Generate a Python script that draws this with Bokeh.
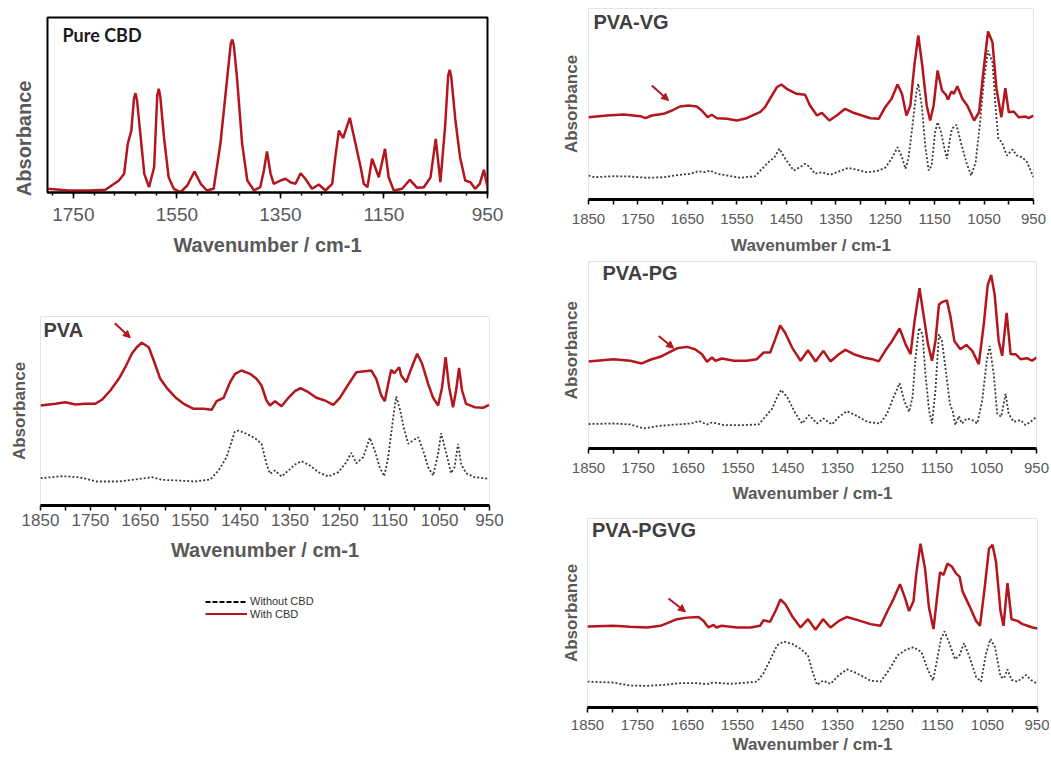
import math
from bokeh.plotting import figure
from bokeh.models import Range1d, FixedTicker, Label, Arrow, NormalHead, Legend, LegendItem
from bokeh.layouts import row, column
from bokeh.embed import file_html
from bokeh.resources import INLINE

# ---------------- data (wavenumber in cm-1, absorbance in arbitrary units) ----------------
cbd_wn = [1800, 1760, 1720, 1688, 1662, 1652, 1645, 1638, 1633, 1630, 1627, 1620, 1613, 1604, 1594,
          1588, 1585, 1582, 1575, 1566, 1556, 1543, 1530, 1516, 1504, 1492, 1479, 1466, 1456, 1446,
          1443, 1440, 1434, 1424, 1414, 1401, 1389, 1382, 1376, 1369, 1363, 1350, 1340, 1331, 1321,
          1311, 1302, 1289, 1276, 1263, 1250, 1244, 1237, 1229, 1216, 1205, 1195, 1189, 1182, 1173,
          1160, 1148, 1141, 1131, 1115, 1100, 1086, 1073, 1060, 1050, 1041, 1032, 1026, 1023, 1020,
          1012, 1003, 993, 983, 974, 965, 957, 950]
cbd_abs = [3.7, 2, 2, 2.7, 12, 18.7, 48.7, 62, 93.7, 99.3, 92, 55.3, 18.7, 5.3, 25.3,
           97, 103.7, 95.3, 55.3, 15.3, 3.7, 0.3, 7, 21, 8.7, 2, 3.7, 48.7, 98.7, 148.7,
           153, 147, 115.3, 48.7, 12, 2, 5.3, 22, 41, 18.7, 8.7, 12, 13.7, 10.3, 8.7,
           19.3, 13.7, 3.7, 8, 2, 8.7, 35.3, 62, 54.3, 74.7, 48.7, 25.3, 8.7, 5.3, 33.7,
           15.3, 43.7, 15.3, 2, 3.7, 12.7, 4.7, 5.3, 15.3, 53.7, 10.3, 65.3, 117, 122.7, 115.3,
           72, 35.3, 12, 10.3, 3.7, 8.7, 22.7, 5.3]

pva_with_wn = [1850, 1820, 1800, 1780, 1760, 1740, 1727, 1710, 1693, 1680, 1667, 1657, 1647, 1633, 1623,
               1610, 1597, 1580, 1563, 1543, 1523, 1507, 1497, 1483, 1470, 1460, 1447, 1430, 1417, 1407,
               1397, 1390, 1380, 1367, 1353, 1340, 1329, 1313, 1297, 1280, 1263, 1250, 1233, 1217, 1200,
               1187, 1177, 1167, 1160, 1153, 1147, 1141, 1131, 1127, 1117, 1107, 1095, 1085, 1073, 1063,
               1053, 1045, 1038, 1031, 1023, 1017, 1011, 1005, 997, 980, 963, 951]
pva_with_abs = [100, 101.7, 103.3, 101, 101.7, 101.7, 105.7, 115, 126.7, 138.3, 151.7, 158.3, 162.7, 158.3, 145,
                126.7, 117.7, 108.3, 101.7, 96.7, 96.7, 95.7, 104.3, 107.7, 123.3, 131.7, 135, 131.7, 126.7, 120,
                105, 100, 104.3, 99.3, 107.7, 114.3, 117.3, 113.3, 107.7, 105, 100.7, 107.7, 121, 133.3, 134.3,
                135, 126.7, 110, 104.3, 121.7, 135.7, 132.3, 138.3, 130, 123.3, 136.7, 151.7, 141.7, 121.7, 107.7,
                100, 118.3, 148.3, 118.3, 98.3, 115, 137.7, 115, 101.7, 98.3, 97.7, 100.7]
pva_without_wn = [1850, 1807, 1773, 1737, 1693, 1660, 1627, 1607, 1573, 1540, 1510, 1493, 1477, 1461, 1453,
                  1437, 1420, 1407, 1397, 1390, 1380, 1367, 1353, 1340, 1327, 1310, 1293, 1273, 1253, 1237,
                  1227, 1217, 1203, 1190, 1180, 1170, 1161, 1153, 1143, 1137, 1129, 1122, 1113, 1103, 1093,
                  1083, 1073, 1063, 1053, 1047, 1038, 1027, 1020, 1013, 1007, 997, 980, 951]
pva_without_abs = [27.3, 29.3, 28.3, 24, 24, 26, 28.3, 25.7, 25, 24, 26, 35, 48.3, 73.3, 75,
                   71.7, 67.3, 61.7, 41.7, 31.7, 35, 29, 35, 41, 44.3, 40, 33.3, 29, 33.3, 43.3,
                   52.7, 42.3, 48.3, 67.7, 55, 38.3, 29.3, 48.3, 88.3, 109, 95, 78.3, 61.7, 65, 68.3,
                   55, 38.3, 30, 51.7, 72.3, 55, 32.3, 38.3, 61.7, 41.7, 32.3, 28.3, 26.7]

vg_with_wn = [1850, 1813, 1779, 1745, 1735, 1722, 1698, 1681, 1665, 1648, 1631, 1621, 1609, 1601, 1590,
              1570, 1550, 1530, 1516, 1503, 1493, 1479, 1469, 1460, 1449, 1429, 1412, 1402, 1388, 1378,
              1363, 1348, 1331, 1317, 1297, 1280, 1263, 1250, 1237, 1225, 1216, 1207, 1199, 1191, 1183,
              1175, 1166, 1159, 1152, 1144, 1135, 1127, 1123, 1116, 1111, 1104, 1094, 1084, 1070, 1060,
              1050, 1042, 1033, 1025, 1015, 1007, 1000, 990, 980, 966, 960, 950]
vg_with_abs = [82.3, 84, 85, 83.3, 81.3, 84, 85.7, 89, 93, 94, 93, 89, 82.3, 84.7, 81.3,
               80.7, 79, 81.3, 84.7, 87.3, 92.3, 104, 112.3, 115, 110.7, 105.7, 104.7, 94, 84, 86.7,
               79, 84, 90.7, 87.3, 84, 81.3, 80.7, 92.3, 100.7, 115, 105.7, 84, 94, 134, 164,
               134, 94, 79, 94, 129, 109, 104.7, 100, 108, 105.7, 113.3, 100.7, 94, 79, 87.3,
               134, 168, 157.3, 111.3, 82.3, 111.3, 87.3, 88, 82.3, 83, 81.3, 84]
vg_without_wn = [1850, 1837, 1799, 1766, 1732, 1698, 1665, 1644, 1628, 1614, 1604, 1590, 1570, 1543, 1513,
                 1499, 1486, 1474, 1464, 1452, 1435, 1422, 1412, 1402, 1392, 1378, 1361, 1344, 1324, 1307,
                 1287, 1267, 1250, 1237, 1225, 1216, 1209, 1203, 1194, 1187, 1183, 1176, 1169, 1162, 1156,
                 1149, 1144, 1137, 1130, 1125, 1119, 1115, 1106, 1097, 1086, 1076, 1067, 1058, 1050, 1042,
                 1033, 1027, 1021, 1014, 1004, 992, 984, 973, 963, 950]
vg_without_abs = [24, 22.3, 23.3, 23, 21.7, 22.3, 24.7, 25.7, 28.3, 27.3, 29, 25.7, 24, 21.7, 23.3,
                  30.7, 37.3, 42.3, 50.7, 40.7, 29, 32.3, 35.7, 32.3, 25.7, 27.3, 24.7, 28, 31.7, 29.7,
                  27.3, 28.3, 31.7, 40.7, 52.3, 42.3, 30.7, 40.7, 77.3, 107.3, 115.7, 94, 54, 29, 34,
                  67.3, 77.3, 67.3, 50.7, 40.7, 60.7, 70.7, 74.7, 57.3, 37.3, 24, 37.3, 77.3, 120.7, 149,
                  137.3, 94, 60.7, 57.3, 44, 50, 44, 42.3, 37.3, 22.3]

pg_with_wn = [1850, 1800, 1766, 1743, 1726, 1706, 1689, 1672, 1652, 1636, 1622, 1612, 1602, 1595, 1582,
              1558, 1532, 1512, 1498, 1485, 1475, 1465, 1455, 1441, 1424, 1409, 1394, 1378, 1364, 1347,
              1334, 1317, 1297, 1280, 1267, 1254, 1240, 1225, 1213, 1203, 1195, 1185, 1177, 1168, 1160,
              1153, 1146, 1140, 1130, 1123, 1115, 1103, 1091, 1079, 1066, 1056, 1048, 1041, 1034, 1026,
              1019, 1010, 1002, 992, 982, 969, 959, 950]
pg_with_abs = [88, 90.3, 88.7, 86, 89.7, 92.7, 97, 101.3, 102.7, 100.3, 95.3, 87.7, 92, 88.7, 91,
               88.7, 88.7, 90.3, 97, 97, 110.3, 124.3, 117, 102, 88.7, 99.3, 88, 98.7, 88, 95.3,
               99.7, 95.3, 92, 90.3, 88, 98.7, 108.7, 121.3, 105.3, 95.3, 128.7, 162, 135.3, 105.3, 88.7,
               108.7, 145.3, 148, 149.7, 133.7, 108.7, 100.3, 104.7, 98.7, 85.3, 125.3, 165.3, 175.3, 155.3, 108.7,
               93.7, 137, 95.3, 95.3, 90.3, 91.3, 88.7, 92]
pg_without_wn = [1850, 1800, 1766, 1739, 1706, 1672, 1644, 1628, 1612, 1602, 1578, 1538, 1508, 1495, 1481,
                 1471, 1463, 1451, 1434, 1421, 1407, 1391, 1378, 1361, 1347, 1331, 1314, 1290, 1264, 1250,
                 1237, 1225, 1216, 1206, 1199, 1193, 1186, 1179, 1173, 1166, 1160, 1153, 1146, 1140, 1133,
                 1124, 1118, 1113, 1106, 1100, 1090, 1079, 1069, 1059, 1050, 1044, 1036, 1029, 1021, 1012,
                 1006, 996, 982, 972, 962, 950]
pg_without_abs = [24.7, 25.3, 24.3, 20.3, 23, 24.3, 25.3, 27.7, 24.3, 26.3, 23.7, 23.7, 24.3, 32, 40.3,
                  52, 59.3, 52, 35.3, 25.3, 33.7, 25.3, 30.3, 24.3, 32, 37.7, 33.7, 27, 25.3, 35.3,
                  52, 66, 48.7, 37, 52, 92, 122, 115.3, 75.3, 38.7, 25.3, 58.7, 115.3, 108.7, 82,
                  45.3, 37, 23.7, 32.7, 25.3, 30.3, 28.7, 25.3, 48.7, 88.7, 103.7, 75.3, 35.3, 32, 55.3,
                  35.3, 27, 28.7, 23.7, 27, 32]

pgvg_with_wn = [1850, 1798, 1765, 1731, 1704, 1688, 1671, 1651, 1628, 1618, 1608, 1598, 1592, 1582, 1551,
                1524, 1505, 1498, 1485, 1474, 1464, 1454, 1441, 1424, 1409, 1394, 1379, 1364, 1347, 1331,
                1311, 1284, 1264, 1250, 1240, 1225, 1215, 1207, 1198, 1192, 1184, 1175, 1167, 1158, 1151,
                1145, 1138, 1130, 1121, 1113, 1106, 1100, 1086, 1073, 1065, 1055, 1047, 1040, 1033, 1024,
                1018, 1010, 1002, 990, 980, 970, 960, 950]
pgvg_with_abs = [82.3, 83, 82, 81.3, 83, 86.3, 89.7, 91.3, 92, 88, 81.3, 84, 81.3, 83, 81.3,
                 81.3, 83, 88.7, 87, 98, 109.7, 104.7, 93, 81.3, 89.7, 79, 89.7, 81.3, 88, 92,
                 89, 84.7, 83, 98, 108, 125.3, 111.3, 98, 108, 138, 166.3, 141.3, 101.3, 79.7, 111.3,
                 137.3, 134.7, 146.3, 143, 136.3, 133, 118, 103, 88, 83, 124.7, 161.3, 165.3, 148, 98,
                 83, 126.3, 89.7, 88, 84.7, 83, 81.3, 80.3]
pgvg_without_wn = [1850, 1798, 1765, 1731, 1698, 1664, 1631, 1611, 1598, 1564, 1531, 1511, 1498, 1485, 1471,
                   1458, 1441, 1424, 1409, 1401, 1391, 1379, 1364, 1347, 1331, 1311, 1284, 1264, 1247, 1230,
                   1213, 1198, 1182, 1169, 1159, 1151, 1143, 1136, 1127, 1115, 1106, 1097, 1086, 1073, 1063,
                   1053, 1044, 1035, 1024, 1017, 1010, 1002, 990, 973, 963, 950]
pgvg_without_abs = [26.3, 25.3, 22.3, 22, 23, 24.7, 24.7, 23.7, 25.3, 24, 25.3, 26.3, 34.7, 48, 63,
                    67, 64.7, 59.7, 53, 38, 23, 27.3, 24, 33, 38.7, 34.7, 27.3, 26.3, 38, 53,
                    58.7, 61.3, 56.3, 38, 27.3, 48, 69.7, 77.3, 66.3, 49, 53, 65.3, 51.3, 31.3, 26.3,
                    54.7, 69.7, 61.3, 31.3, 29.7, 38.7, 28, 26.3, 33, 28, 24]

major_ticks_cbd = [1750, 1550, 1350, 1150, 950]
minor_ticks_cbd = list(range(950, 1800, 40))
major_ticks = [1850, 1750, 1650, 1550, 1450, 1350, 1250, 1150, 1050, 950]
minor_ticks = [1800, 1700, 1600, 1500, 1400, 1300, 1200, 1100, 1000]

panel_names = ["Pure CBD", "PVA", "PVA-VG", "PVA-PG", "PVA-PGVG"]
legend_labels = ["Without CBD", "With CBD"]
x_title = "Wavenumber / cm-1"
y_title = "Absorbance"

# ---------------- styles ----------------
RED = "#b3161d"
DOT = "#3a3a3a"
TXT = "#595959"
TTL = "#404040"
FONT = "Liberation Sans"
NB = "\u00a0"


def base_fig(width, height, left, right, top, bottom, xr, yr, outline="#e4e4e4", outline_w=1):
    p = figure(width=width, height=height, x_range=Range1d(*xr), y_range=Range1d(*yr),
               output_backend="svg", toolbar_location=None, frame_align=False,
               min_border_left=left, min_border_right=right,
               min_border_top=top, min_border_bottom=bottom)
    p.xgrid.visible = False
    p.ygrid.visible = False
    p.background_fill_color = "white"
    p.border_fill_color = "white"
    p.outline_line_color = outline
    p.outline_line_width = outline_w
    return p


def style_x(p, ticks, minor, tick_px, tick_out, minor_out, standoff, axis_w, title_px, title_standoff):
    ax = p.xaxis[0]
    ax.ticker = FixedTicker(ticks=ticks, minor_ticks=minor)
    ax.axis_line_color = "black"
    ax.axis_line_width = axis_w
    ax.major_tick_line_color = "black"
    ax.major_tick_line_width = 1.5
    ax.minor_tick_line_color = "black"
    ax.minor_tick_line_width = 1.5
    ax.major_tick_out = tick_out
    ax.major_tick_in = 0
    ax.minor_tick_out = minor_out
    ax.minor_tick_in = 0
    ax.major_label_text_font = FONT
    ax.major_label_text_font_size = f"{tick_px}px"
    ax.major_label_text_color = TXT
    ax.major_label_standoff = standoff
    ax.axis_label = x_title
    ax.axis_label_text_font = FONT
    ax.axis_label_text_font_size = f"{title_px}px"
    ax.axis_label_text_font_style = "bold"
    ax.axis_label_text_color = TXT
    ax.axis_label_standoff = title_standoff


def style_y(p, label_px, standoff, label_text):
    ax = p.yaxis[0]
    ax.ticker = FixedTicker(ticks=[])
    ax.axis_line_color = None
    ax.major_tick_out = 0
    ax.major_tick_in = 0
    ax.minor_tick_out = 0
    ax.minor_tick_in = 0
    ax.major_label_standoff = 0
    ax.axis_label = label_text
    ax.axis_label_text_font = FONT
    ax.axis_label_text_font_size = f"{label_px}px"
    ax.axis_label_text_font_style = "bold"
    ax.axis_label_text_color = TXT
    ax.axis_label_standoff = standoff


def add_text(p, x, y, text, size, color, font=FONT):
    p.add_layout(Label(x=x, y=y, text=text, text_font=font, text_font_size=f"{size}px",
                       text_font_style="bold", text_color=color,
                       text_align="left", text_baseline="middle"))


def add_arrow(p, xs, ys, xe, ye):
    p.add_layout(Arrow(end=NormalHead(size=7, fill_color=RED, line_color=RED, line_width=1),
                       x_start=xs, y_start=ys, x_end=xe, y_end=ye,
                       line_color=RED, line_width=2))


def spectra(p, wn_with, ab_with, wn_without=None, ab_without=None):
    if wn_without is not None:
        p.line(wn_without, ab_without, line_color=DOT, line_width=1.8, line_dash="2 2")
    p.line(wn_with, ab_with, line_color=RED, line_width=2.5)


# ---------------- Pure CBD ----------------
p1 = base_fig(548, 270, 47, 61, 17, 78, (1800, 950), (0, 175), outline="black", outline_w=2)
style_x(p1, major_ticks_cbd, minor_ticks_cbd, 19, 6, 3, 9, 2, 20, 10)
style_y(p1, 20, 13, y_title + NB * 12)
spectra(p1, cbd_wn, cbd_abs)
add_text(p1, 1771, 158, panel_names[0], 18, "#1a1a1a", font="Lato")

# ---------------- PVA ----------------
p2 = base_fig(548, 310, 40, 59, 46, 75, (1850, 950), (0, 189))
style_x(p2, major_ticks, minor_ticks, 17, 5, 5, 3, 3, 20, 10)
style_y(p2, 17, 12, y_title)
spectra(p2, pva_with_wn, pva_with_abs, pva_without_wn, pva_without_abs)
add_text(p2, 1844, 176, panel_names[1], 20, TTL)
add_arrow(p2, 1701, 182.3, 1670, 167.7)

# ---------------- legend ----------------
pl = figure(width=548, height=176, x_range=Range1d(0, 1), y_range=Range1d(0, 1),
            output_backend="svg", toolbar_location=None, x_axis_location=None, y_axis_location=None,
            frame_align=False,
            min_border_left=0, min_border_right=0, min_border_top=0, min_border_bottom=0)
pl.outline_line_color = None
pl.xgrid.visible = False
pl.ygrid.visible = False
# sample renderers live outside the visible range; they only provide the legend glyphs
r_wo = pl.line([5, 6], [5, 6], line_color="black", line_width=2, line_dash="5 2")
r_w = pl.line([5, 6], [5, 6], line_color=RED, line_width=2)
for lab, rend, vy in [(legend_labels[0], r_wo, 148.5), (legend_labels[1], r_w, 136)]:
    lg = Legend(items=[LegendItem(label=lab, renderers=[rend])], location=(205, vy),
                padding=0, margin=0, spacing=0, glyph_width=42, glyph_height=13,
                label_height=13, label_standoff=3, border_line_color=None,
                background_fill_alpha=0, label_text_font=FONT, label_text_font_size="11px",
                label_text_color="#333333")
    pl.add_layout(lg)

# ---------------- PVA-VG ----------------
p3 = base_fig(501, 258, 40, 16, 8, 59, (1850, 950), (0, 191))
style_x(p3, major_ticks, minor_ticks, 15, 5, 5, 9, 3, 17, 9)
style_y(p3, 17, 8, y_title)
spectra(p3, vg_with_wn, vg_with_abs, vg_without_wn, vg_without_abs)
add_text(p3, 1840, 178, panel_names[2], 20, TTL)
add_arrow(p3, 1722, 114, 1688, 99)

# ---------------- PVA-PG ----------------
p4 = base_fig(501, 247, 40, 13, 3, 55, (1850, 950), (0, 189))
style_x(p4, major_ticks, minor_ticks, 15, 5, 5, 9, 3, 17, 8)
style_y(p4, 17, 8, NB * 2 + y_title)
spectra(p4, pg_with_wn, pg_with_abs, pg_without_wn, pg_without_abs)
add_text(p4, 1822, 177, panel_names[3], 20, TTL)
add_arrow(p4, 1709, 113.7, 1679, 101.3)

# ---------------- PVA-PGVG ----------------
p5 = base_fig(501, 251, 39, 12, 13, 46, (1850, 950), (0, 192))
style_x(p5, major_ticks, minor_ticks, 15, 5, 5, 7, 3, 17, 2)
style_y(p5, 17, 7, y_title)
spectra(p5, pgvg_with_wn, pgvg_with_abs, pgvg_without_wn, pgvg_without_abs)
add_text(p5, 1841, 180, panel_names[4], 20, TTL)
add_arrow(p5, 1688, 110.7, 1654, 97.3)

layout = row(column(p1, p2, pl), column(p3, p4, p5))
open("out.html", "w").write(file_html(layout, INLINE))
